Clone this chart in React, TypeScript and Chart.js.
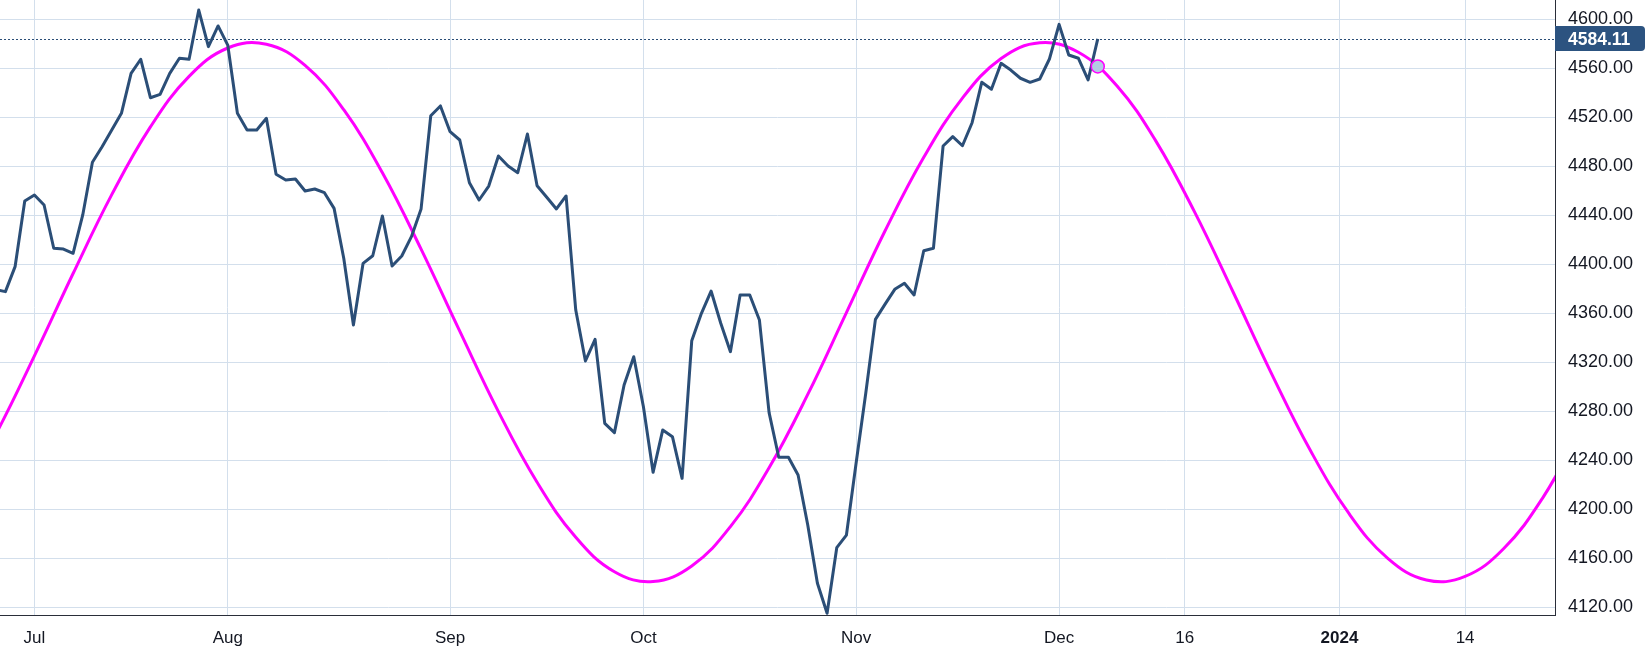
import React, { useEffect, useRef } from "react";
import { Chart, registerables } from "chart.js";

Chart.register(...registerables);

// ---- data ----
// trading-bar index of the first close (0 = Jul 3, 2023; future bars are calendar days)
const PRICE_START_INDEX = -4;
const PRICE_CLOSES = [
  4379.4, 4377.7, 4398.1, 4451.7, 4456.6, 4448.4, 4413.1, 4412.5, 4409.0, 4440.3,
  4483.3, 4496.0, 4509.7, 4523.3, 4555.9, 4567.4, 4536.0, 4538.8, 4555.9, 4568.2,
  4567.4, 4607.6, 4577.7, 4594.6, 4579.0, 4523.3, 4509.7, 4509.7, 4519.2, 4473.5,
  4468.8, 4469.7, 4459.9, 4461.5, 4458.5, 4445.7, 4404.9, 4350.5, 4400.8, 4407.0,
  4439.5, 4398.6, 4406.8, 4422.6, 4445.2, 4521.3, 4529.3, 4508.3, 4501.5, 4466.6,
  4452.5, 4463.9, 4488.4, 4480.3, 4474.8, 4506.4, 4464.2, 4454.7, 4445.2, 4455.8,
  4362.7, 4321.1, 4338.8, 4270.2, 4262.6, 4301.5, 4324.6, 4283.8, 4230.2, 4264.8,
  4259.3, 4225.3, 4337.7, 4360.0, 4378.2, 4351.9, 4328.7, 4374.9, 4374.9, 4354.5,
  4278.9, 4242.5, 4242.5, 4228.0, 4187.2, 4139.6, 4115.1, 4168.7, 4179.0, 4237.6,
  4294.7, 4355.1, 4367.5, 4379.6, 4384.5, 4375.0, 4411.1, 4413.1, 4496.6, 4504.2,
  4496.8, 4515.6, 4548.6, 4542.9, 4564.1, 4558.6, 4551.9, 4548.6, 4551.3, 4567.6,
  4595.9, 4570.9, 4568.2, 4550.5, 4584.11,
];

// cycle curve, sampled along the bar index
const CYCLE_X = [
  -8, -4, 0, 4, 8, 12, 16, 20, 24, 28, 32, 36, 40, 44, 48, 52, 56, 60, 64, 68, 72,
  76, 80, 84, 88, 92, 96, 100, 104, 108, 112, 116, 120, 124, 128, 132, 136, 140,
  144, 148, 152, 156, 160,
];
const CYCLE_Y = [
  4206.9, 4261.3, 4325.3, 4392.5, 4456.9, 4512.2, 4553.4, 4576.6, 4579.7, 4562.4,
  4526.2, 4474.7, 4412.4, 4345.4, 4279.8, 4222.1, 4177.2, 4149.1, 4141.1, 4153.8,
  4185.9, 4233.9, 4293.8, 4360.6, 4427.4, 4487.4, 4535.7, 4568.0, 4580.9, 4573.1,
  4545.6, 4500.8, 4443.0, 4377.4, 4310.4, 4248.0, 4196.4, 4160.0, 4142.3, 4145.2,
  4168.0, 4209.0, 4264.9,
];

const MARKER_X = [110];
const MARKER_Y = [4561.5];

const X_TICK_POS = [0, 20, 43, 63, 85, 106, 119, 135, 148];
const X_TICK_LABELS = ["Jul", "Aug", "Sep", "Oct", "Nov", "Dec", "16", "2024", "14"];
const Y_TICKS = [4120, 4160, 4200, 4240, 4280, 4320, 4360, 4400, 4440, 4480, 4520, 4560, 4600];
const LAST_PRICE = PRICE_CLOSES[PRICE_CLOSES.length - 1];

const X_MIN = -3.56;
const X_MAX = 157.3;
const Y_MIN = 4113.74;
const Y_MAX = 4615.78;

// ---- styles ----
const NAVY = "#2b4e77";
const BOX = "#2c5380";
const MAGENTA = "#ff00ff";
const GRID = "#d3dfec";
const AXIS = "#2a2e39";
const TEXT = "#131722";
const FONT = '"Liberation Sans", Arial, sans-serif';

export default function App() {
  const ref = useRef<HTMLCanvasElement | null>(null);

  useEffect(() => {
    const canvas = ref.current;
    if (!canvas) return;

    const pricePoints = PRICE_CLOSES.map((v, k) => ({ x: PRICE_START_INDEX + k, y: v }));
    const cyclePoints = CYCLE_X.map((x, k) => ({ x, y: CYCLE_Y[k] }));
    const markerPoints = MARKER_X.map((x, k) => ({ x, y: MARKER_Y[k] }));

    const priceLabel = {
      id: "priceLabel",
      beforeDatasetsDraw(chart: any) {
        const { ctx, chartArea, scales } = chart;
        const y = Math.round(scales.y.getPixelForValue(LAST_PRICE)) + 0.5;
        ctx.save();
        ctx.strokeStyle = NAVY;
        ctx.lineWidth = 1;
        ctx.setLineDash([2, 2]);
        ctx.beginPath();
        ctx.moveTo(chartArea.left, y);
        ctx.lineTo(chartArea.right, y);
        ctx.stroke();
        ctx.restore();
      },
      afterDraw(chart: any) {
        const { ctx, chartArea, scales } = chart;
        const y = scales.y.getPixelForValue(LAST_PRICE);
        const x0 = chartArea.right;
        const w = 90;
        const h = 25;
        ctx.save();
        ctx.fillStyle = BOX;
        ctx.beginPath();
        (ctx as any).roundRect(x0, Math.round(y - h / 2), w, h, [0, 4, 4, 0]);
        ctx.fill();
        ctx.fillStyle = "#ffffff";
        ctx.font = `bold 17.5px ${FONT}`;
        ctx.textBaseline = "middle";
        ctx.textAlign = "left";
        ctx.fillText(LAST_PRICE.toFixed(2), x0 + 13, y + 1);
        ctx.restore();
      },
    };

    const chart = new Chart(canvas, {
      type: "line",
      data: {
        datasets: [
          {
            data: markerPoints,
            showLine: false,
            pointRadius: 6.5,
            pointHoverRadius: 6.5,
            pointBackgroundColor: "#b3cbe3",
            pointBorderColor: MAGENTA,
            pointBorderWidth: 1.5,
            clip: 0,
          } as any,
          {
            data: pricePoints,
            borderColor: NAVY,
            borderWidth: 3,
            pointRadius: 0,
            tension: 0,
            borderJoinStyle: "round",
            clip: 0,
          },
          {
            data: cyclePoints,
            borderColor: MAGENTA,
            borderWidth: 3,
            pointRadius: 0,
            tension: 0.4,
            clip: 0,
          },
        ],
      },
      options: {
        responsive: false,
        devicePixelRatio: 1,
        animation: false,
        events: [],
        layout: { padding: 0, autoPadding: false },
        plugins: { legend: { display: false }, tooltip: { enabled: false } },
        scales: {
          x: {
            type: "linear",
            position: "bottom",
            min: X_MIN,
            max: X_MAX,
            afterBuildTicks: (scale: any) => {
              scale.ticks = X_TICK_POS.map((v) => ({ value: v }));
            },
            afterFit: (scale: any) => {
              scale.height = 39;
              scale.paddingLeft = 0;
              scale.paddingRight = 0;
            },
            grid: { color: GRID, lineWidth: 1, drawTicks: false },
            border: { display: true, color: AXIS, width: 1 },
            ticks: {
              autoSkip: false,
              maxRotation: 0,
              padding: 13,
              color: TEXT,
              font: (ctx: any) => ({
                family: FONT,
                size: 17,
                weight: ctx.tick && ctx.tick.value === 135 ? "bold" : "normal",
              }),
              callback: (v: any) => {
                const k = X_TICK_POS.indexOf(Number(v));
                return k >= 0 ? X_TICK_LABELS[k] : "";
              },
            },
          },
          y: {
            type: "linear",
            position: "right",
            min: Y_MIN,
            max: Y_MAX,
            afterBuildTicks: (scale: any) => {
              scale.ticks = Y_TICKS.map((v) => ({ value: v }));
            },
            afterFit: (scale: any) => {
              scale.width = 97;
              scale.paddingTop = 0;
              scale.paddingBottom = 0;
            },
            grid: { color: GRID, lineWidth: 1, drawTicks: false },
            border: { display: true, color: AXIS, width: 1 },
            ticks: {
              padding: 13,
              color: TEXT,
              font: { family: FONT, size: 18 },
              callback: (v: any) => Number(v).toFixed(2),
            },
          },
        },
      },
      plugins: [priceLabel],
    });

    return () => chart.destroy();
  }, []);

  return (
    <div style={{ position: "fixed", left: 0, top: 0, width: 1652, height: 654, background: "#ffffff" }}>
      <canvas ref={ref} width={1652} height={654} style={{ display: "block" }} />
    </div>
  );
}
